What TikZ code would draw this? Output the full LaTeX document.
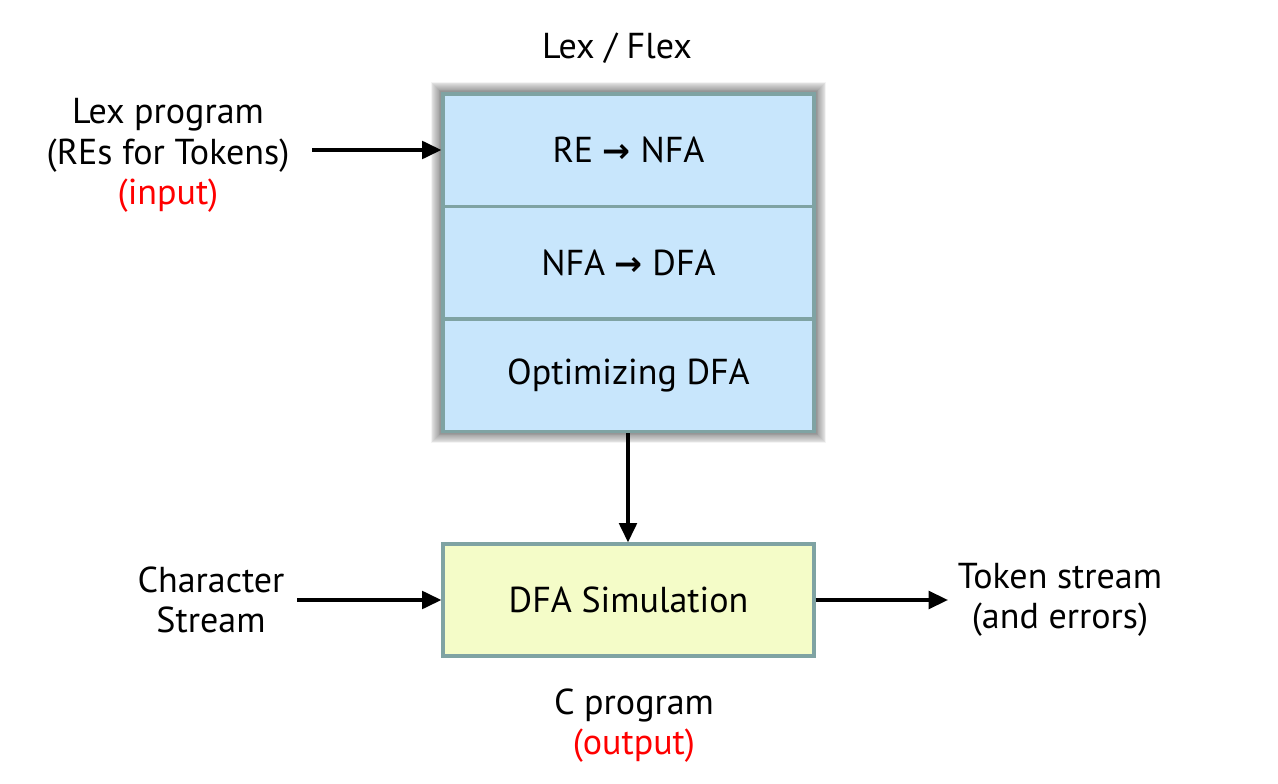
\documentclass[tikz,border=0pt]{standalone}
\usepackage{fontspec}
\setmainfont{PT Sans}
\newfontfamily\arrowfont{DejaVu Sans}
\usetikzlibrary{positioning,arrows.meta}
\definecolor{stageblue}{HTML}{C8E6FC}
\definecolor{simyellow}{HTML}{F4FCC8}
\definecolor{boxrim}{HTML}{7FA3A3}
\newcommand{\tto}{{\arrowfont\bfseries\fontsize{19}{20}\selectfont →}}

\begin{document}
\begin{tikzpicture}[
    every node/.style={font=\fontsize{20.5}{23}\selectfont},
    stage/.style={rectangle,draw=boxrim,line width=1.8pt,fill=stageblue,
      minimum width=7.42cm,minimum height=2.25cm,inner sep=0pt},
    simbox/.style={rectangle,draw=boxrim,line width=1.8pt,fill=simyellow,
      minimum width=7.42cm,minimum height=2.24cm,inner sep=0pt},
    txt/.style={align=center,inner sep=1pt},
    flow/.style={-{Triangle[length=11pt,width=10pt]},line width=2pt},
  ]
  \useasboundingbox (0,0) rectangle (25.56,15.66);
  % glow round the lex / flex stages
  \foreach \r in {1,...,14} {
    \fill[black,opacity=0.045] ([xshift=-\r*0.5pt,yshift=-\r*0.5pt]8.86,7.04)
      rectangle ([xshift=\r*0.5pt,yshift=\r*0.5pt]16.28,13.78);
  }
  \node[stage] (re) at (12.57,12.655) {RE \tto{} NFA};
  \node[stage,below=-1.8pt of re] (nfa) {NFA \tto{} DFA};
  \node[stage,below=-1.8pt of nfa] (opt) {Optimizing DFA};
  \node[txt] (lex) at (12.34,14.70) {Lex / Flex};
  % input side
  \node[txt] (prog) at (3.36,12.55) {Lex program\\(REs for Tokens)\\\textcolor{red}{(input)}};
  \coordinate (progout) at (6.24,12.66);
  % simulation
  \node[simbox] (sim) at (12.57,3.66) {DFA Simulation};
  \node[txt] (chars) at (4.22,3.66) {Character\\Stream};
  \coordinate (charsout) at (5.94,3.66);
  \node[txt] (tok) at (21.20,3.66) {Token stream\\(and errors)};
  \coordinate (tokin) at (18.96,3.66);
  \node[txt] (cprog) at (12.68,1.15) {C program\\\textcolor{red}{(output)}};
  % arrows
  \draw[flow] (progout) -- (re.west |- progout);
  \draw[flow] (opt.south -| 12.56,0) -- (sim.north -| 12.56,0);
  \draw[flow] (charsout) -- (sim.west);
  \draw[flow] (sim.east) -- (tokin);
\end{tikzpicture}
\end{document}
